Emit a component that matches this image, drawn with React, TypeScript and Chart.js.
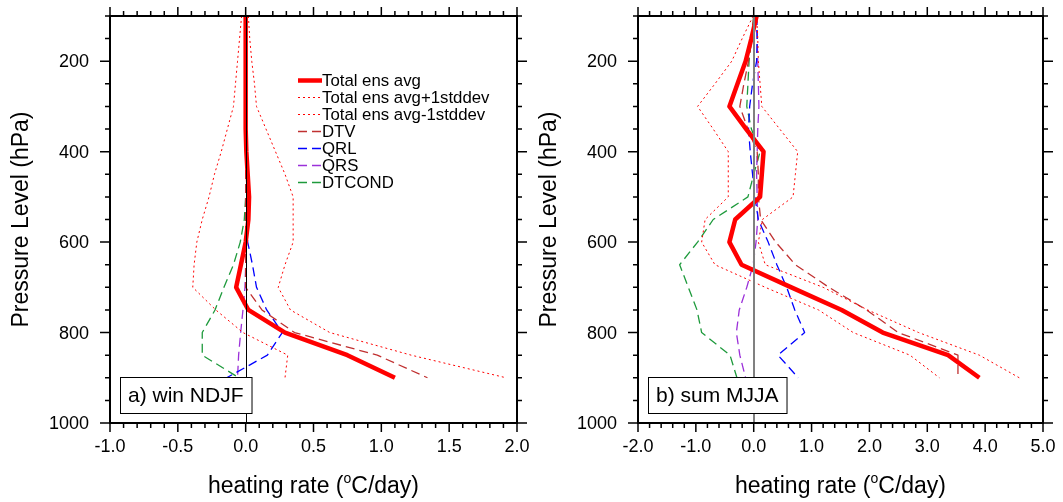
import React, { useEffect, useRef } from 'react';
import { Chart, registerables } from 'chart.js';

Chart.register(...registerables);

// Pressure levels (hPa)
const levels = [100, 150, 200, 250, 300, 350, 400, 450, 500, 550, 600, 650, 700, 750, 800, 850, 900];

// a) win NDJF
const winTotal = [0.0, 0.0, 0.0, 0.0, 0.0, 0.0, 0.005, 0.015, 0.025, 0.02, 0.0, -0.035, -0.07, 0.02, 0.29, 0.75, 1.10];
const winPlus = [0.02, 0.03, 0.045, 0.065, 0.08, 0.15, 0.22, 0.29, 0.35, 0.35, 0.35, 0.29, 0.24, 0.33, 0.62, 1.22, 1.92];
const winMinus = [-0.03, -0.045, -0.06, -0.075, -0.09, -0.135, -0.18, -0.23, -0.27, -0.32, -0.36, -0.38, -0.39, -0.22, -0.02, 0.31, 0.29];
const winDTV = [0, 0, 0, 0, 0, 0, 0, 0, 0, 0, 0, 0, 0.0, 0.12, 0.36, 0.97, 1.34];
const winQRL = [0, 0, 0, 0, 0, 0, 0, 0, 0, 0.005, 0.015, 0.05, 0.08, 0.155, 0.27, 0.16, -0.14];
const winQRS = [0, 0, 0, 0, 0, 0, 0, 0, 0, 0, 0, 0, -0.005, -0.02, -0.037, -0.052, -0.06];
const winCOND = [0, 0, 0, 0, 0, 0, 0, 0, 0, -0.01, -0.04, -0.09, -0.16, -0.226, -0.32, -0.32, -0.05];

// b) sum MJJA
const sumTotal = [0.05, -0.04, -0.14, -0.28, -0.42, -0.13, 0.17, 0.14, 0.11, -0.32, -0.42, -0.21, 0.65, 1.52, 2.23, 3.36, 3.90];
const sumPlus = [0.05, 0.07, 0.08, 0.11, 0.14, 0.45, 0.76, 0.72, 0.68, 0.15, 0.08, 0.2, 1.2, 1.97, 2.85, 3.9, 4.59];
const sumMinus = [-0.01, -0.2, -0.38, -0.67, -0.97, -0.7, -0.44, -0.44, -0.44, -0.84, -0.9, -0.67, 0.2, 1.12, 1.72, 2.7, 3.21];
const sumDTV = [0.0, -0.03, -0.09, -0.17, -0.24, -0.1, 0.06, 0.08, 0.08, 0.12, 0.38, 0.72, 1.3, 1.95, 2.5, 3.53, 3.53];
const sumQRL = [0.05, 0.06, 0.05, -0.02, -0.07, -0.09, -0.06, -0.02, 0.02, 0.08, 0.25, 0.40, 0.57, 0.71, 0.88, 0.42, 0.77];
const sumQRS = [0.05, 0.06, 0.07, 0.08, 0.09, 0.07, 0.06, 0.05, 0.06, 0.07, 0.04, -0.01, -0.12, -0.25, -0.30, -0.24, -0.14];
const sumCOND = [0.0, -0.04, -0.08, -0.1, -0.12, -0.04, 0.11, 0.0, -0.1, -0.7, -0.97, -1.28, -1.13, -0.98, -0.9, -0.41, -0.29];

// Axes
const yTickValues = [200, 400, 600, 800, 1000];
const winXTicks = [-1.0, -0.5, 0.0, 0.5, 1.0, 1.5, 2.0];
const sumXTicks = [-2.0, -1.0, 0.0, 1.0, 2.0, 3.0, 4.0, 5.0];

const legendLabels = ['Total ens avg', 'Total ens avg+1stddev', 'Total ens avg-1stddev', 'DTV', 'QRL', 'QRS', 'DTCOND'];

const FONT = '"Liberation Sans", Arial, Helvetica, sans-serif';

const RED = '#ff0000';
const BROWN = '#c03030';
const BLUE = '#0000ff';
const PURPLE = '#9b30d9';
const GREEN = '#1e9a3c';

type Style = { color: string; width: number; dash: number[] };
const styles: Style[] = [
  { color: RED, width: 4.5, dash: [] },
  { color: RED, width: 1, dash: [2, 3] },
  { color: RED, width: 1, dash: [2, 3] },
  { color: BROWN, width: 1.3, dash: [9, 5] },
  { color: BLUE, width: 1.3, dash: [9, 5] },
  { color: PURPLE, width: 1.3, dash: [9, 5] },
  { color: GREEN, width: 1.3, dash: [9, 5] },
];

type Panel = {
  series: number[][];
  xMin: number;
  xMax: number;
  xTicks: number[];
  xMinorStep: number;
  label: string;
  zeroColor: string;
  zeroWidth: number;
  showLegend: boolean;
  padding: { left: number; right: number; top: number; bottom: number };
};

function makeDecor(p: Panel) {
  return {
    id: 'decor',
    afterDatasetsDraw(chart: any) {
      const { ctx, chartArea: a, scales } = chart;
      const xs = scales.x;
      const ys = scales.y;
      ctx.save();

      // zero reference line
      const x0 = Math.round(xs.getPixelForValue(0)) + (p.zeroWidth % 2 === 1 ? 0.5 : 0);
      ctx.strokeStyle = p.zeroColor;
      ctx.lineWidth = p.zeroWidth;
      ctx.setLineDash([]);
      ctx.beginPath();
      ctx.moveTo(x0, a.top);
      ctx.lineTo(x0, a.bottom);
      ctx.stroke();

      // legend
      if (p.showLegend) {
        const lx = a.left + 188;
        const ly = a.top + 64.5;
        ctx.font = `16.8px ${FONT}`;
        ctx.textBaseline = 'middle';
        ctx.textAlign = 'left';
        legendLabels.forEach((t, i) => {
          const yy = ly + i * 17;
          const s = styles[i];
          ctx.strokeStyle = s.color;
          ctx.lineWidth = s.width;
          ctx.setLineDash(s.dash);
          ctx.beginPath();
          ctx.moveTo(lx, yy);
          ctx.lineTo(lx + 24, yy);
          ctx.stroke();
          ctx.setLineDash([]);
          ctx.fillStyle = '#000';
          ctx.fillText(t, lx + 24, yy + 1);
        });
      }

      // frame
      ctx.setLineDash([]);
      ctx.strokeStyle = '#000';
      ctx.lineWidth = 2;
      ctx.strokeRect(a.left, a.top, a.right - a.left, a.bottom - a.top);

      // ticks
      ctx.lineWidth = 1.5;
      ctx.beginPath();
      const nMinor = Math.round((p.xMax - p.xMin) / p.xMinorStep);
      for (let i = 0; i <= nMinor; i++) {
        const v = p.xMin + i * p.xMinorStep;
        const isMajor = p.xTicks.some((t) => Math.abs(t - v) < 1e-6);
        const len = isMajor ? 9 : 5;
        const px = xs.getPixelForValue(v);
        ctx.moveTo(px, a.bottom);
        ctx.lineTo(px, a.bottom + len);
        ctx.moveTo(px, a.top);
        ctx.lineTo(px, a.top - len);
      }
      for (let pv = 100; pv <= 1000; pv += 50) {
        const isMajor = yTickValues.includes(pv);
        const len = isMajor ? 10 : 5;
        const py = ys.getPixelForValue(pv);
        ctx.moveTo(a.left, py);
        ctx.lineTo(a.left - len, py);
        ctx.moveTo(a.right, py);
        ctx.lineTo(a.right + len, py);
      }
      ctx.stroke();

      // tick labels
      ctx.fillStyle = '#000';
      ctx.font = `18px ${FONT}`;
      ctx.textAlign = 'right';
      ctx.textBaseline = 'middle';
      yTickValues.forEach((v) => {
        ctx.fillText(String(v), a.left - 21, ys.getPixelForValue(v) + 1);
      });
      ctx.textAlign = 'center';
      p.xTicks.forEach((v) => {
        ctx.fillText(v.toFixed(1), xs.getPixelForValue(v), a.bottom + 24);
      });

      // axis titles
      ctx.font = `23px ${FONT}`;
      ctx.save();
      ctx.translate(a.left - 88, (a.top + a.bottom) / 2);
      ctx.rotate(-Math.PI / 2);
      ctx.textAlign = 'center';
      ctx.fillText('Pressure Level (hPa)', 0, 0);
      ctx.restore();

      const partA = 'heating rate (';
      const partB = 'o';
      const partC = 'C/day)';
      ctx.font = `23px ${FONT}`;
      const wA = ctx.measureText(partA).width;
      const wC = ctx.measureText(partC).width;
      ctx.font = `14px ${FONT}`;
      const wB = ctx.measureText(partB).width;
      const total = wA + wB + wC;
      let tx = (a.left + a.right) / 2 - total / 2;
      const ty = a.bottom + 64;
      ctx.textAlign = 'left';
      ctx.textBaseline = 'middle';
      ctx.font = `23px ${FONT}`;
      ctx.fillText(partA, tx, ty);
      tx += wA;
      ctx.font = `14px ${FONT}`;
      ctx.fillText(partB, tx, ty - 8);
      tx += wB;
      ctx.font = `23px ${FONT}`;
      ctx.fillText(partC, tx, ty);

      // panel label box
      ctx.font = `21px ${FONT}`;
      const lw = ctx.measureText(p.label).width + 16;
      const bx = a.left + 10;
      const by = a.bottom - 46;
      ctx.fillStyle = '#fff';
      ctx.fillRect(bx, by, lw, 36);
      ctx.strokeStyle = '#000';
      ctx.lineWidth = 1;
      ctx.strokeRect(bx + 0.5, by + 0.5, lw, 36);
      ctx.fillStyle = '#000';
      ctx.textAlign = 'left';
      ctx.textBaseline = 'middle';
      ctx.fillText(p.label, bx + 8, by + 19);

      ctx.restore();
    },
  };
}

function PanelChart({ p, left, width }: { p: Panel; left: number; width: number }) {
  const ref = useRef<HTMLCanvasElement | null>(null);
  useEffect(() => {
    if (!ref.current) return;
    const datasets = p.series.map((vals, i) => ({
      label: legendLabels[i],
      data: levels.map((lev, j) => ({ x: vals[j], y: lev })),
      borderColor: styles[i].color,
      borderWidth: styles[i].width,
      borderDash: styles[i].dash,
      pointRadius: 0,
      fill: false,
      tension: 0,
      borderCapStyle: 'butt' as const,
      borderJoinStyle: 'round' as const,
    }));
    const chart = new Chart(ref.current, {
      type: 'line',
      data: { datasets },
      options: {
        responsive: false,
        animation: false,
        devicePixelRatio: 1,
        layout: { padding: p.padding },
        plugins: { legend: { display: false }, tooltip: { enabled: false } },
        scales: {
          x: { type: 'linear', min: p.xMin, max: p.xMax, display: false },
          y: { type: 'linear', min: 100, max: 1000, reverse: true, display: false },
        },
      },
      plugins: [makeDecor(p)],
    });
    return () => chart.destroy();
  }, []);
  return (
    <canvas
      ref={ref}
      width={width}
      height={502}
      style={{ position: 'absolute', left, top: 0, width, height: 502, display: 'block' }}
    />
  );
}

const winPanel: Panel = {
  series: [winTotal, winPlus, winMinus, winDTV, winQRL, winQRS, winCOND],
  xMin: -1,
  xMax: 2,
  xTicks: winXTicks,
  xMinorStep: 0.1,
  label: 'a) win NDJF',
  zeroColor: '#000',
  zeroWidth: 1,
  showLegend: true,
  padding: { left: 110, right: 14, top: 16, bottom: 79 },
};

const sumPanel: Panel = {
  series: [sumTotal, sumPlus, sumMinus, sumDTV, sumQRL, sumQRS, sumCOND],
  xMin: -2,
  xMax: 5,
  xTicks: sumXTicks,
  xMinorStep: 0.2,
  label: 'b) sum MJJA',
  zeroColor: '#808080',
  zeroWidth: 2,
  showLegend: false,
  padding: { left: 107, right: 20, top: 16, bottom: 79 },
};

export default function App() {
  return (
    <div style={{ position: 'absolute', left: 0, top: 0, width: 1063, height: 502, background: '#fff' }}>
      <PanelChart p={winPanel} left={0} width={531} />
      <PanelChart p={sumPanel} left={531} width={532} />
    </div>
  );
}
